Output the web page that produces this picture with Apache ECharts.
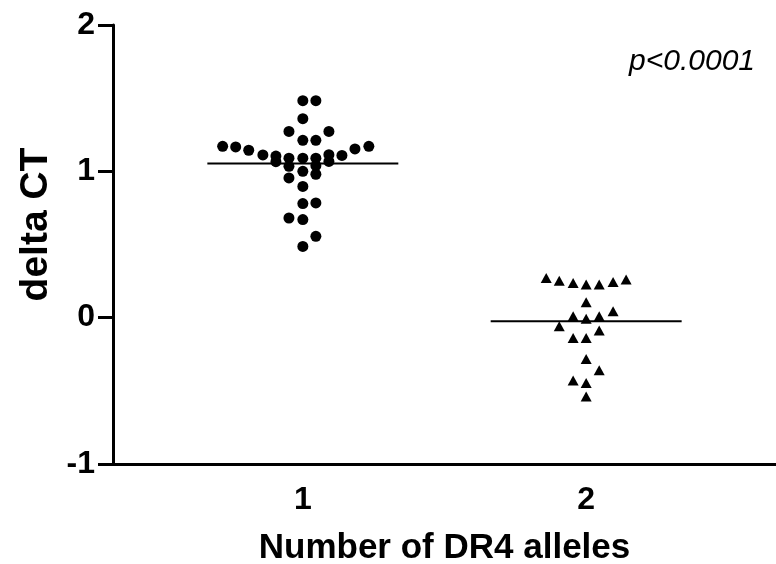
<!DOCTYPE html>
<html>
<head>
<meta charset="utf-8">
<script src="https://cdn.jsdelivr.net/npm/echarts@6/dist/echarts.min.js"></script>
<style>
  html, body { margin: 0; padding: 0; background: #fff; }
  #main { width: 776px; height: 564px; }
</style>
</head>
<body>
<div id="main"></div>
<script>
// categories on the x axis
const categories = [1, 2];
const yTicks = [-1, 0, 1, 2];

// group 1 (one DR4 allele): delta CT and horizontal spread inside the column
const group1Values = [1.483, 1.483, 1.36, 1.273, 1.273, 1.212, 1.212, 1.171, 1.167, 1.144, 1.112,
  1.104, 1.066, 1.09, 1.09, 1.09, 1.114, 1.068, 1.109, 1.153, 1.171, 1.034, 1.039, 1.0, 0.98,
  0.955, 0.897, 0.78, 0.784, 0.681, 0.67, 0.556, 0.487];
const group1Jitter = [0, 0.046, 0, -0.049, 0.092, 0, 0.046, -0.283, -0.237, -0.191, -0.141,
  -0.095, -0.095, -0.049, 0, 0.046, 0.092, 0.092, 0.138, 0.184, 0.233, -0.049, 0.046, 0, 0.046,
  -0.049, 0, 0, 0.046, -0.049, 0, 0.046, 0];

// group 2 (two DR4 alleles)
const group2Values = [0.271, 0.253, 0.237, 0.226, 0.226, 0.244, 0.26, 0.105, 0.043, 0.009, -0.007,
  0.009, -0.059, -0.087, -0.139, -0.139, -0.282, -0.36, -0.43, -0.446, -0.538];
const group2Jitter = [-0.141, -0.095, -0.046, 0, 0.046, 0.095, 0.141, 0, 0.095, -0.046, 0,
  0.046, -0.095, 0.046, -0.046, 0, 0, 0.046, -0.046, 0, 0];

// median lines
const medians = [1.053, -0.025];
const pText = 'p<0.0001';

const font = 'Liberation Sans, Arial, sans-serif';
const halfWidth = 0.337;

function toPoints(cat, values, jitter) {
    return values.map((v, i) => [cat + jitter[i], v]);
}

const medianSeries = categories.map((c, i) => ({
    type: 'line',
    data: [[c - halfWidth, medians[i]], [c + halfWidth, medians[i]]],
    symbol: 'none',
    lineStyle: { color: '#000', width: 2 },
    z: 1,
    silent: true
}));

const chart = echarts.init(document.getElementById('main'), null, { renderer: 'canvas' });
const option = {
    animation: false,
    backgroundColor: '#fff',
    grid: { left: 113, right: 0, top: 25, bottom: 100, outerBoundsMode: 'none' },
    xAxis: {
        type: 'value',
        min: 0.33,
        max: 2.67,
        name: 'Number of DR4 alleles',
        nameLocation: 'middle',
        nameGap: 67,
        nameTextStyle: { color: '#000', fontSize: 35, fontWeight: 'bold', fontFamily: font },
        axisLine: { onZero: false, lineStyle: { color: '#000', width: 3 } },
        axisTick: { show: false },
        splitLine: { show: false },
        axisLabel: {
            customValues: categories,
            color: '#000', fontSize: 32, fontWeight: 'bold', fontFamily: font, margin: 20
        }
    },
    yAxis: {
        type: 'value',
        min: -1,
        max: 2,
        interval: 1,
        name: 'delta CT',
        nameLocation: 'middle',
        nameGap: 48,
        nameTextStyle: {
            color: '#000', fontSize: 39, fontWeight: 'bold', fontFamily: font,
            padding: [0, 0, 0, 40]
        },
        axisLine: { show: true, onZero: false, lineStyle: { color: '#000', width: 3 } },
        axisTick: { show: true, length: 15, lineStyle: { color: '#000', width: 3 } },
        splitLine: { show: false },
        axisLabel: {
            customValues: yTicks,
            color: '#000', fontSize: 32, fontWeight: 'bold', fontFamily: font, margin: 18
        }
    },
    graphic: [{
        type: 'text',
        right: 21,
        top: 47,
        style: { text: pText, fill: '#000', fontSize: 30, fontStyle: 'italic', fontFamily: font }
    }],
    series: [
        {
            type: 'scatter',
            data: toPoints(categories[0], group1Values, group1Jitter),
            symbol: 'circle',
            symbolSize: 11,
            itemStyle: { color: '#000', opacity: 1 },
            z: 2
        },
        {
            type: 'scatter',
            data: toPoints(categories[1], group2Values, group2Jitter),
            symbol: 'triangle',
            symbolSize: [11, 10],
            itemStyle: { color: '#000', opacity: 1 },
            z: 2
        }
    ].concat(medianSeries)
};
chart.setOption(option);
</script>
</body>
</html>
